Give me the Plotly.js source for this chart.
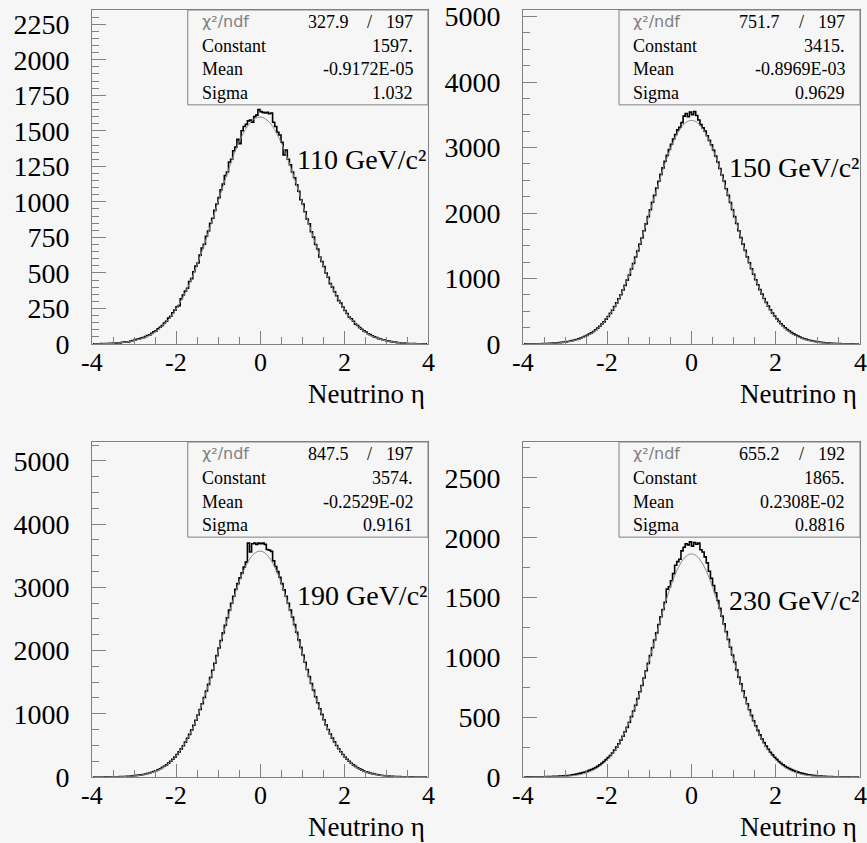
<!DOCTYPE html>
<html>
<head>
<meta charset="utf-8">
<script src="https://cdn.plot.ly/plotly-3.0.1.min.js"></script>
<style>html,body{margin:0;padding:0;background:#f6f6f6;}#chart{width:867px;height:843px;}</style>
</head>
<body>
<div id="chart"></div>
<script>
// ---- data ----
// histogram bin centres (bin width 0.05)
const binCenters = [-3.975,-3.925,-3.875,-3.825,-3.775,-3.725,-3.675,-3.625,-3.575,-3.525,-3.475,-3.425,-3.375,-3.325,-3.275,-3.225,-3.175,-3.125,-3.075,-3.025,-2.975,-2.925,-2.875,-2.825,-2.775,-2.725,-2.675,-2.625,-2.575,-2.525,-2.475,-2.425,-2.375,-2.325,-2.275,-2.225,-2.175,-2.125,-2.075,-2.025,-1.975,-1.925,-1.875,-1.825,-1.775,-1.725,-1.675,-1.625,-1.575,-1.525,-1.475,-1.425,-1.375,-1.325,-1.275,-1.225,-1.175,-1.125,-1.075,-1.025,-0.975,-0.925,-0.875,-0.825,-0.775,-0.725,-0.675,-0.625,-0.575,-0.525,-0.475,-0.425,-0.375,-0.325,-0.275,-0.225,-0.175,-0.125,-0.075,-0.025,0.025,0.075,0.125,0.175,0.225,0.275,0.325,0.375,0.425,0.475,0.525,0.575,0.625,0.675,0.725,0.775,0.825,0.875,0.925,0.975,1.025,1.075,1.125,1.175,1.225,1.275,1.325,1.375,1.425,1.475,1.525,1.575,1.625,1.675,1.725,1.775,1.825,1.875,1.925,1.975,2.025,2.075,2.125,2.175,2.225,2.275,2.325,2.375,2.425,2.475,2.525,2.575,2.625,2.675,2.725,2.775,2.825,2.875,2.925,2.975,3.025,3.075,3.125,3.175,3.225,3.275,3.325,3.375,3.425,3.475,3.525,3.575,3.625,3.675,3.725,3.775,3.825,3.875,3.925,3.975];
// fit-curve sample positions
const fitX = [-3.95,-3.85,-3.75,-3.65,-3.55,-3.45,-3.35,-3.25,-3.15,-3.05,-2.95,-2.85,-2.75,-2.65,-2.55,-2.45,-2.35,-2.25,-2.15,-2.05,-1.95,-1.85,-1.75,-1.65,-1.55,-1.45,-1.35,-1.25,-1.15,-1.05,-0.95,-0.85,-0.75,-0.65,-0.55,-0.45,-0.35,-0.25,-0.15,-0.05,0.05,0.15,0.25,0.35,0.45,0.55,0.65,0.75,0.85,0.95,1.05,1.15,1.25,1.35,1.45,1.55,1.65,1.75,1.85,1.95,2.05,2.15,2.25,2.35,2.45,2.55,2.65,2.75,2.85,2.95,3.05,3.15,3.25,3.35,3.45,3.55,3.65,3.75,3.85,3.95];

const massLabels = ["110 GeV/c²", "150 GeV/c²", "190 GeV/c²", "230 GeV/c²"];
const chi2 = ["327.9", "751.7", "847.5", "655.2"];
const ndf = ["197", "197", "197", "192"];
const constants = ["1597.", "3415.", "3574.", "1865."];
const means = ["-0.9172E-05", "-0.8969E-03", "-0.2529E-02", "0.2308E-02"];
const sigmas = ["1.032", "0.9629", "0.9161", "0.8816"];

const hist110 = [1,0,2,1,3,2,4,3,5,4,7,6,9,8,12,13,16,15,21,24,27,33,36,41,45,52,60,64,75,86,92,107,118,130,148,160,182,195,220,238,262,270,318,345,372,392,440,460,508,548,570,625,675,702,758,795,850,885,940,985,1030,1085,1125,1185,1210,1280,1300,1360,1385,1440,1410,1500,1530,1545,1570,1575,1560,1600,1610,1650,
  1635,1630,1625,1630,1620,1625,1560,1530,1490,1470,1420,1330,1365,1300,1260,1210,1170,1120,1075,1015,985,930,880,845,790,752,700,668,612,580,545,500,470,425,400,368,340,305,288,260,236,215,190,178,160,140,130,115,104,92,84,72,66,58,50,46,38,35,30,28,22,20,17,14,13,10,9,7,7,5,4,4,3,3,2,2,1,2,1,1];
const fit110 = [1,1.5,2,3,4,6,8,11,15,20,27,35,46,59,75,95,119,148,182,222,268,320,379,445,517,595,679,767,858,952,1045,1138,1226,1310,1386,1452,1508,1551,1580,1595,1595,1580,1551,1508,1452,1386,1310,1226,1138,1045,952,858,767,679,595,517,445,379,320,268,222,182,148,119,95,75,59,46,35,27,20,15,11,8,6,4,3,2,1.5,1];

const hist150 = [1,2,1,2,3,2,3,4,4,5,6,8,9,11,13,15,18,21,25,29,33,38,45,52,60,68,79,90,103,118,132,152,170,192,218,242,272,305,338,380,420,468,515,572,628,690,752,825,895,975,1052,1145,1230,1328,1420,1525,1618,1730,1835,1945,2050,2165,2270,2380,2485,2590,2690,2790,2880,2970,3050,3130,3200,3270,3310,3380,3480,3520,3470,3540,
  3500,3550,3490,3420,3350,3300,3250,3180,3110,3040,2960,2870,2780,2680,2580,2490,2370,2270,2160,2050,1945,1840,1730,1625,1525,1430,1330,1240,1150,1065,980,905,830,762,695,635,578,522,472,428,385,345,310,278,248,220,196,174,154,135,120,105,92,80,70,60,53,46,40,34,29,25,21,18,15,13,11,9,7,6,5,4,4,3,2,2,2,1,1,1];
const fit150 = [1,1,2,3,4,6,8,11,16,23,31,43,58,78,103,134,174,223,282,354,439,539,655,787,935,1099,1278,1471,1674,1884,2099,2313,2522,2719,2901,3062,3197,3302,3374,3410,3410,3374,3302,3197,3062,2901,2719,2522,2313,2099,1884,1674,1471,1278,1099,935,787,655,539,439,354,282,223,174,134,103,78,58,43,31,23,16,11,8,6,4,3,2,1,1];

const hist190 = [0,1,0,1,1,1,2,2,2,3,3,4,5,6,7,9,11,13,15,18,21,25,30,34,40,47,55,64,74,86,98,114,130,150,170,192,220,248,282,315,355,398,445,495,552,612,675,745,818,898,980,1068,1160,1258,1360,1465,1575,1690,1800,1920,2040,2160,2280,2400,2520,2640,2750,2860,2970,3060,3150,3230,3320,3400,3700,3560,3690,3700,3680,3700,
  3690,3700,3680,3600,3590,3570,3420,3330,3250,3160,3060,2960,2860,2750,2640,2530,2410,2290,2170,2050,1930,1815,1700,1590,1480,1375,1270,1175,1080,990,905,825,752,680,615,555,498,446,400,356,316,280,248,218,192,168,147,128,112,97,84,73,62,53,46,39,33,28,24,20,17,14,12,10,8,7,6,5,4,3,3,2,2,1,1,1,1,0,1,0];
const fit190 = [0,1,1,1,2,3,4,7,10,14,20,28,39,54,74,100,133,175,228,292,371,465,576,706,854,1021,1207,1409,1625,1853,2088,2324,2556,2779,2985,3168,3322,3443,3526,3569,3569,3526,3443,3322,3168,2985,2779,2556,2324,2088,1853,1625,1409,1207,1021,854,706,576,465,371,292,228,175,133,100,74,54,39,28,20,14,10,7,4,3,2,1,1,1,0];

const hist230 = [0,0,1,0,1,1,1,2,1,2,2,3,3,4,5,5,6,7,8,10,11,13,15,18,21,24,28,32,37,42,48,55,63,70,80,90,102,115,130,145,162,180,200,225,250,278,308,340,378,415,458,505,552,600,655,712,765,828,888,950,1015,1080,1145,1205,1275,1340,1400,1460,1570,1590,1640,1700,1770,1800,1820,1890,1920,1950,1940,1965,
  1930,1960,1945,1955,1900,1880,1840,1790,1720,1660,1600,1540,1475,1410,1345,1280,1215,1150,1085,1020,960,895,835,778,720,665,612,562,515,470,428,390,352,318,287,258,232,207,185,165,147,130,115,102,90,80,70,62,54,47,41,35,30,26,22,19,16,14,12,10,8,7,6,5,4,3,3,2,2,1,1,1,1,0,1,0,0,0,0,0];
const fit230 = [0,0,1,1,1,2,2,3,3,5,7,10,14,20,28,39,53,72,95,125,162,206,260,324,398,482,577,683,797,918,1044,1172,1299,1421,1535,1637,1724,1791,1838,1862,1862,1838,1791,1724,1637,1535,1421,1299,1172,1044,918,797,683,577,482,398,324,260,206,162,125,95,72,53,39,28,20,14,10,7,5,3,3,2,2,1,1,1,0,0];

const xTickVals = [-4, -2, 0, 2, 4];
const xTickText = ["-4", "-2", "0", "2", "4"];

// ---- layout ----
const histSeries = [hist110, hist150, hist190, hist230];
const fitSeries = [fit110, fit150, fit190, fit230];
const yRanges = [[0, 2350], [0, 5100], [0, 5300], [0, 2800]];
const yDticks = [250, 1000, 1000, 500];
const yMinor = [50, 250, 250, 250];
const W = 867, H = 843;
// plot areas in pixels [left, right, top, bottom]
const boxes = [[92, 428, 10, 344], [523, 860, 10, 344], [92, 428, 442, 777], [523, 860, 442, 777]];
const labelY = [0.551, 0.527, 0.542, 0.527];

const serif = "Liberation Serif";
const frameColor = "#808080";
const bg = "#f6f6f6";

const traces = [];
const layout = {
  width: W, height: H,
  margin: {l: 0, r: 0, t: 0, b: 0},
  paper_bgcolor: bg, plot_bgcolor: bg,
  showlegend: false,
  font: {family: serif, size: 28, color: "#000"},
  annotations: [], shapes: []
};

for (let i = 0; i < 4; i++) {
  const s = i === 0 ? "" : String(i + 1);
  const xa = "x" + s, ya = "y" + s;
  const b = boxes[i];
  traces.push({
    x: binCenters, y: histSeries[i], xaxis: xa, yaxis: ya,
    type: "scatter", mode: "lines",
    line: {shape: "hvh", color: "#000", width: 1.6},
    hoverinfo: "skip"
  });
  traces.push({
    x: fitX, y: fitSeries[i], xaxis: xa, yaxis: ya,
    type: "scatter", mode: "lines",
    line: {shape: "spline", color: "#8a8a8a", width: 1},
    hoverinfo: "skip"
  });
  layout["xaxis" + s] = {
    domain: [b[0] / W, b[1] / W], anchor: ya,
    range: [-4, 4], showgrid: false, zeroline: false,
    showline: true, mirror: true, linecolor: frameColor, linewidth: 1,
    ticks: "inside", ticklen: 13, tickcolor: frameColor, tickwidth: 1,
    tickvals: xTickVals, showticklabels: false,
    minor: {dtick: 0.5, tick0: 0, ticks: "inside", ticklen: 7, tickcolor: frameColor, tickwidth: 1},
    fixedrange: true
  };
  layout["yaxis" + s] = {
    domain: [(H - b[3]) / H, (H - b[2]) / H], anchor: xa,
    range: yRanges[i], showgrid: false, zeroline: false,
    showline: true, mirror: true, linecolor: frameColor, linewidth: 1,
    ticks: "inside", ticklen: 14, tickcolor: frameColor, tickwidth: 1,
    dtick: yDticks[i], tick0: 0,
    minor: {dtick: yMinor[i], tick0: 0, ticks: "inside", ticklen: 7, tickcolor: frameColor, tickwidth: 1},
    tickfont: {family: serif, size: 28, color: "#000"},
    ticklabelstandoff: 16,
    ticklabeloverflow: "allow",
    fixedrange: true
  };
  const xd = xa + " domain", yd = ya + " domain";
  const A = layout.annotations;
  // x tick labels placed on the axis scale
  for (let t = 0; t < xTickVals.length; t++) {
    A.push({xref: xa, yref: yd, x: xTickVals[t], y: 0, xanchor: "center", yanchor: "middle", yshift: -18,
      borderpad: 0, showarrow: false, text: xTickText[t], font: {family: serif, size: 26, color: "#000"}});
  }
  // statistics box
  layout.shapes.push({type: "rect", xref: xd, yref: yd, x0: 0.285, x1: 1, y0: 0.716, y1: 1,
    line: {color: frameColor, width: 1}, fillcolor: bg, layer: "above"});
  const rowY = [0.965, 0.892, 0.822, 0.751];
  const statFont = {family: serif, size: 18, color: "#000"};
  A.push({xref: xd, yref: yd, x: 0.32, y: rowY[0], xanchor: "left", yanchor: "middle", showarrow: false,
    text: "χ²/ndf", font: {family: "DejaVu Sans", size: 16, color: "#808080"}});
  A.push({xref: xd, yref: yd, x: 0.77, y: rowY[0], xanchor: "right", yanchor: "middle", showarrow: false, text: chi2[i], font: statFont});
  A.push({xref: xd, yref: yd, x: 0.827, y: rowY[0], xanchor: "center", yanchor: "middle", showarrow: false, text: "/", font: statFont});
  A.push({xref: xd, yref: yd, x: 0.96, y: rowY[0], xanchor: "right", yanchor: "middle", showarrow: false, text: ndf[i], font: statFont});
  const names = ["Constant", "Mean", "Sigma"];
  const vals = [constants[i], means[i], sigmas[i]];
  for (let r = 0; r < 3; r++) {
    A.push({xref: xd, yref: yd, x: 0.32, y: rowY[r + 1], xanchor: "left", yanchor: "middle", showarrow: false, text: names[r], font: statFont});
    A.push({xref: xd, yref: yd, x: 0.96, y: rowY[r + 1], xanchor: "right", yanchor: "middle", showarrow: false, text: vals[r], font: statFont});
  }
  // mass label
  A.push({xref: xd, yref: yd, x: 0.604, y: labelY[i], xanchor: "left", yanchor: "middle", showarrow: false,
    text: massLabels[i], font: {family: serif, size: 28, color: "#000"}});
  // x-axis title
  A.push({xref: xd, yref: yd, x: 1, y: 0, xanchor: "right", yanchor: "middle", yshift: -50, xshift: -2, borderpad: 0, showarrow: false,
    text: "Neutrino η", font: {family: serif, size: 27, color: "#000"}});
}

Plotly.newPlot("chart", traces, layout, {staticPlot: true, displayModeBar: false});
</script>
</body>
</html>
